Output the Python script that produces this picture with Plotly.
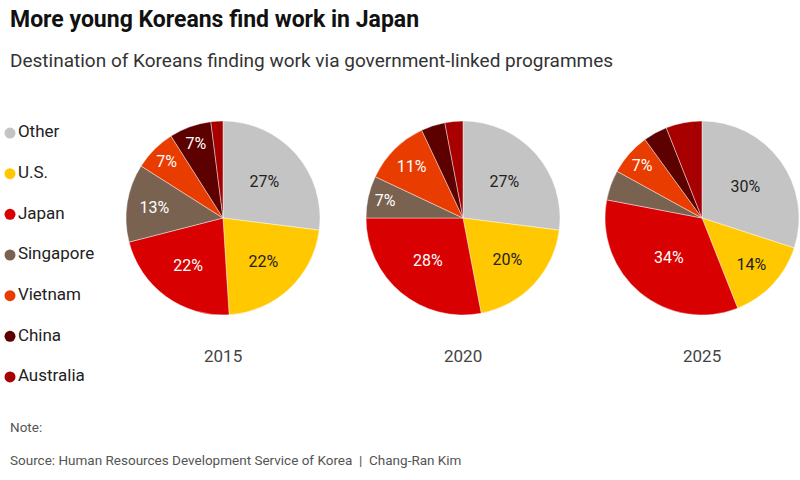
import plotly.graph_objects as go

categories = ["Other", "U.S.", "Japan", "Singapore", "Vietnam", "China", "Australia"]
years = ["2015", "2020", "2025"]
values_2015 = [27, 22, 22, 13, 7, 7, 2]
values_2020 = [27, 20, 28, 7, 11, 4, 3]
values_2025 = [30, 14, 34, 5, 7, 4, 6]
colors = ["#c4c4c4", "#ffc800", "#d80000", "#7a6250", "#e93c00", "#5c0000", "#a80000"]
text_colors = ["#222222", "#222222", "white", "white", "white", "white", "white"]

FONT = "Roboto, Lato, sans-serif"

all_values = [values_2015, values_2020, values_2025]
centers = [223, 463, 702]
cy = 218
r = 97
W, H = 800, 480

fig = go.Figure()
for yr, vals, cx in zip(years, all_values, centers):
    labels_txt = [f"{v}%" if v >= 7 else "" for v in vals]
    fig.add_trace(go.Pie(
        labels=categories, values=vals, sort=False, direction="clockwise", rotation=0,
        marker=dict(colors=colors, line=dict(color="rgba(255,255,255,0.6)", width=0.7)),
        text=labels_txt, textinfo="text", textposition="inside",
        insidetextorientation="horizontal",
        textfont=dict(family=FONT, size=16, color=text_colors),
        domain=dict(x=[(cx - r) / W, min(1, (cx + r) / W)], y=[(H - cy - r) / H, (H - cy + r) / H]),
        showlegend=False, hoverinfo="label+percent",
    ))
    fig.add_annotation(x=cx / W, y=(H - 356) / H, xref="paper", yref="paper",
                       xanchor="center", yanchor="middle",
                       text=yr, showarrow=False, font=dict(family=FONT, size=17, color="#444"))

# legend drawn as a categorical scatter
fig.add_trace(go.Scatter(
    x=[10] * len(categories), y=categories, mode="markers+text",
    marker=dict(color=colors, size=11, symbol="circle"),
    text=categories, textposition="middle right",
    textfont=dict(family=FONT, size=17, color="#222"),
    hoverinfo="skip", showlegend=False, cliponaxis=False,
))

fig.update_layout(
    width=W, height=H, margin=dict(l=0, r=0, t=0, b=0),
    paper_bgcolor="white", plot_bgcolor="rgba(0,0,0,0)",
    showlegend=False,
    xaxis=dict(visible=False, domain=[0, 0.2], range=[0, 160], fixedrange=True),
    yaxis=dict(visible=False, domain=[1 - 397.3 / H, 1 - 112.7 / H],
               type="category", categoryorder="array", categoryarray=categories,
               range=[6.5, -0.5], fixedrange=True),
    font=dict(family=FONT),
)
fig.add_annotation(x=8 / W, y=1 - 20 / H, xref="paper", yref="paper", xanchor="left", yanchor="middle",
                   text="<b>More young Koreans find work in Japan</b>", showarrow=False,
                   font=dict(family=FONT, size=23, color="#111"))
fig.add_annotation(x=8 / W, y=1 - 60 / H, xref="paper", yref="paper", xanchor="left", yanchor="middle",
                   text="Destination of Koreans finding work via government-linked programmes", showarrow=False,
                   font=dict(family=FONT, size=19, color="#333"))
fig.add_annotation(x=8 / W, y=1 - 427 / H, xref="paper", yref="paper", xanchor="left", yanchor="middle",
                   text="Note:", showarrow=False, font=dict(family=FONT, size=13.5, color="#555"))
fig.add_annotation(x=8 / W, y=1 - 460 / H, xref="paper", yref="paper", xanchor="left", yanchor="middle",
                   text="Source: Human Resources Development Service of Korea  |  Chang-Ran Kim", showarrow=False,
                   font=dict(family=FONT, size=13.5, color="#555"))

fig.write_html("out.html", config={"displayModeBar": False},
               post_script="document.body.style.margin='0';")
